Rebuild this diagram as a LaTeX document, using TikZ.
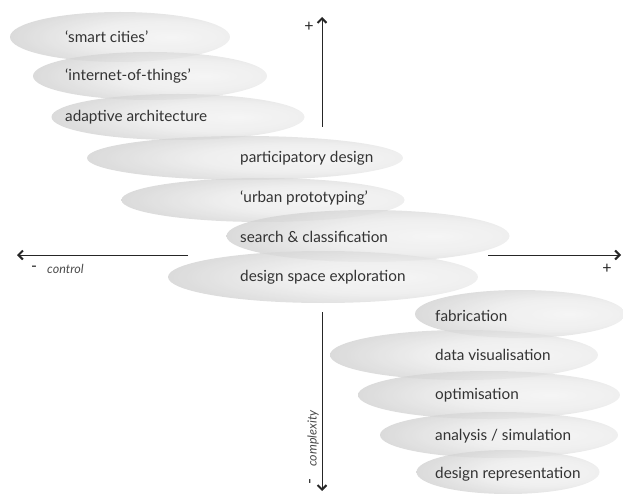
\documentclass[tikz,border=0pt]{standalone}
\usepackage{fontspec}
\setmainfont{Lato}
\usetikzlibrary{arrows.meta,shapes.geometric}

% soft grey blob: light core shifted to the right, darker rim
\pgfdeclareradialshading{blob}{\pgfpoint{12bp}{0bp}}{%
  color(0bp)=(black!5); color(16bp)=(black!8); color(38bp)=(black!22);
  color(50bp)=(black!34); color(70bp)=(black!34)}

\tikzset{
  blobnode/.style={ellipse, inner sep=0pt, shading=blob, fill opacity=0.8,
    draw=none},
  lbl/.style={anchor=west, inner sep=0pt, text=black!80,
    font=\fontsize{15.3}{17}\selectfont},
  axisline/.style={draw=black!85, line width=1pt},
  axistip/.style={-{Straight Barb[length=4.5pt,width=9pt,line width=2pt]}},
  axislbl/.style={text=black!70, inner sep=0pt, font=\fontsize{12.5}{14}\selectfont\itshape},
  signlbl/.style={text=black!85, inner sep=0pt, font=\fontsize{16}{18}\selectfont}
}

\newcommand{\blob}[6]{%
  \node[blobnode, minimum width=#4pt, minimum height=#5pt] (#1) at (#2,#3) {};}

\begin{document}
\begin{tikzpicture}[x=1pt, y=-1pt]
\useasboundingbox (0,0) rectangle (623,494);

% blobs
\blob{b1}{120}{37}{220}{50}{}
\blob{b2}{150}{76}{234}{48}{}
\blob{b3}{178}{117}{253}{46}{}
\blob{b4}{245}{158}{316}{44}{}
\blob{b5}{263}{200}{283}{44}{}
\blob{b6}{368}{236}{283}{52}{}
\blob{b7}{323}{277}{310}{52}{}
\blob{b8}{520}{314}{210}{48}{}
\blob{b9}{464}{355}{268}{50}{}
\blob{b10}{489}{395}{262}{48}{}
\blob{b11}{499}{435}{238}{46}{}
\blob{b12}{508}{472}{183}{44}{}

% labels
\node[lbl] (t1) at (65,37) {‘smart cities’};
\node[lbl] (t2) at (65,76) {‘internet-of-things’};
\node[lbl] (t3) at (65,117) {adaptive architecture};
\node[lbl] (t4) at (240,158) {participatory design};
\node[lbl] (t5) at (240,198) {‘urban prototyping’};
\node[lbl] (t6) at (240,237) {search \& classification};
\node[lbl] (t7) at (240,277) {design space exploration};
\node[lbl] (t8) at (435,316) {fabrication};
\node[lbl] (t9) at (435,355) {data visualisation};
\node[lbl] (t10) at (435,395) {optimisation};
\node[lbl] (t11) at (435,436) {analysis / simulation};
\node[lbl] (t12) at (435,474) {design representation};

% axes
\coordinate (vtop) at (322,17);
\coordinate (vtopend) at (322,127);
\coordinate (vbotstart) at (322,312);
\coordinate (vbot) at (322,491);
\coordinate (hleft) at (17,255);
\coordinate (hleftend) at (188,255);
\coordinate (hrightstart) at (488,255);
\coordinate (hright) at (621,255);

\draw[axisline, axistip] (vtopend) -- (vtop);
\draw[axisline, axistip] (vbotstart) -- (vbot);
\draw[axisline, axistip] (hleftend) -- (hleft);
\draw[axisline, axistip] (hrightstart) -- (hright);

% axis annotations
\node[signlbl] (ptop) at (309,27) {+};
\node[signlbl] (pright) at (607,269) {+};
\node[signlbl] (mleft) at (34,269) {-};
\node[axislbl, anchor=west] (ctrl) at (47,269) {control};
\node[signlbl, rotate=90] (mbot) at (312,482) {-};
\node[axislbl, rotate=90, anchor=west] (cplx) at (313,467) {complexity};
\end{tikzpicture}
\end{document}
